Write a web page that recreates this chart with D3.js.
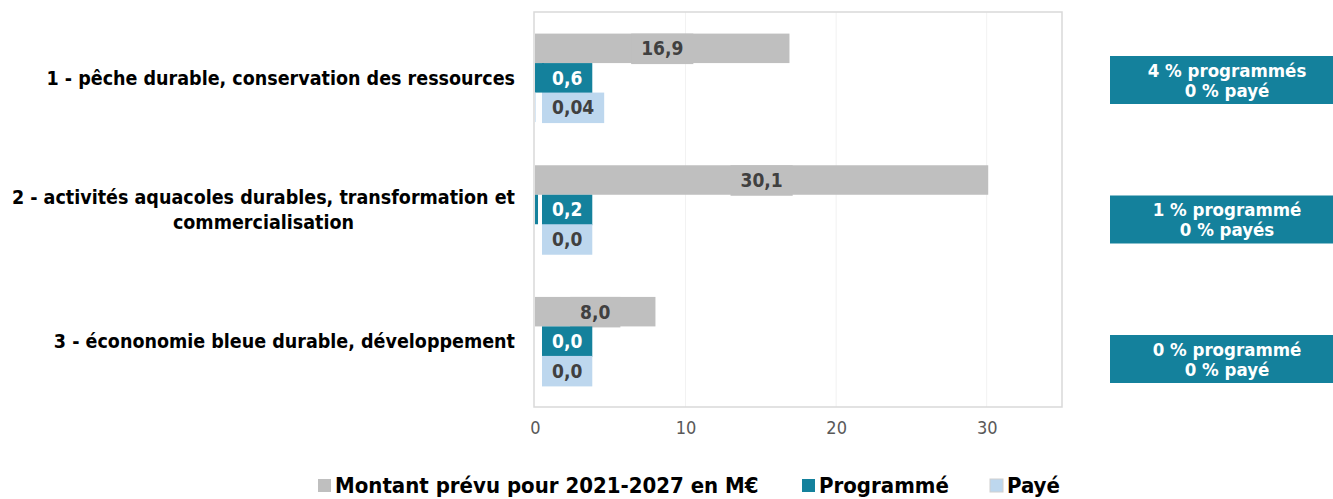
<!DOCTYPE html>
<html>
<head>
<meta charset="utf-8">
<script src="https://cdn.jsdelivr.net/npm/d3@7"></script>
<style>
  body { margin: 0; background: #fff; }
  svg { display: block; font-family: "DejaVu Sans Condensed", "DejaVu Sans", sans-serif; }
</style>
</head>
<body>
<div id="chart"></div>
<script>
// data
var categories = [
  ["1 - pêche durable, conservation des ressources"],
  ["2 - activités aquacoles durables, transformation et", "commercialisation"],
  ["3 - écononomie bleue durable, développement"]
];
var prevu = [16.9, 30.1, 8.0];
var programme = [0.6, 0.2, 0.0];
var paye = [0.04, 0.0, 0.0];
var ratioText = [
  ["4 % programmés", "0 % payé"],
  ["1 % programmé", "0 % payés"],
  ["0 % programmé", "0 % payé"]
];
var xTicks = [0, 10, 20, 30];
var seriesNames = ["Montant prévu pour 2021-2027 en M€", "Programmé", "Payé"];
var seriesColors = ["#bfbfbf", "#14819c", "#bdd7ee"];
var labelColors = ["#404040", "#ffffff", "#404040"];

var width = 1333, height = 499;
var plot = {left: 535, right: 1062, top: 12, bottom: 407};

var svg = d3.select("#chart").append("svg")
    .attr("width", width)
    .attr("height", height);

var x = d3.scaleLinear().domain([0, 35]).range([plot.left, plot.right]);
var y = d3.scaleBand().domain(d3.range(categories.length))
    .range([plot.top, plot.bottom])
    .paddingInner(0.328).paddingOuter(0.164);
var ySub = d3.scaleBand().domain([0, 1, 2]).range([0, y.bandwidth()]);

var locale = d3.formatLocale({decimal: ",", thousands: " ", grouping: [3], currency: ["", "€"]});
var f1 = locale.format(".1f"), f2 = locale.format(".2f");
function fmt(v) { return (v > 0 && v < 0.1) ? f2(v) : f1(v); }

// gridlines
svg.append("g").selectAll("line")
  .data(xTicks.slice(1))
  .enter().append("line")
    .attr("x1", function(d){ return x(d); })
    .attr("x2", function(d){ return x(d); })
    .attr("y1", plot.top).attr("y2", plot.bottom)
    .attr("stroke", "#f2f2f2").attr("stroke-width", 1);

// plot border
svg.append("rect")
  .attr("x", plot.left - 1).attr("y", plot.top)
  .attr("width", plot.right - plot.left + 1).attr("height", plot.bottom - plot.top)
  .attr("fill", "none").attr("stroke", "#d9d9d9").attr("stroke-width", 1.5);

// x axis labels
var xAxis = svg.append("g")
  .attr("transform", "translate(0," + (plot.bottom + 8) + ")")
  .call(d3.axisBottom(x).tickValues(xTicks).tickSize(0).tickPadding(6));
xAxis.select(".domain").remove();
xAxis.selectAll("text")
  .attr("fill", "#595959")
  .style("font-size", "18px")
  .style("font-family", "'DejaVu Sans Condensed', 'DejaVu Sans', sans-serif");

var series = [prevu, programme, paye];

series.forEach(function(vals, s) {
  var g = svg.append("g");
  g.selectAll("rect.bar")
    .data(vals)
    .enter().append("rect")
      .attr("class", "bar")
      .attr("x", x(0))
      .attr("y", function(d, i){ return y(i) + ySub(s); })
      .attr("width", function(d){ return x(d) - x(0); })
      .attr("height", ySub.bandwidth())
      .attr("fill", seriesColors[s]);

  var lab = g.selectAll("g.lab")
    .data(vals)
    .enter().append("g")
      .attr("class", "lab");
  var boxes = lab.append("rect")
      .attr("fill", seriesColors[s]);
  var txt = lab.append("text")
      .attr("y", function(d, i){ return y(i) + ySub(s) + ySub.bandwidth() / 2; })
      .attr("dy", "0.36em")
      .attr("text-anchor", "middle")
      .attr("fill", labelColors[s])
      .style("font-size", "19px")
      .style("font-weight", "bold")
      .text(function(d){ return fmt(d); });
  txt.each(function(d, i) {
    var w = this.getComputedTextLength() + 20;
    var cx = s === 0 ? (x(0) + x(d)) / 2 : x(0) + 7 + w / 2;
    d3.select(this).attr("x", cx);
    d3.select(boxes.nodes()[i])
      .attr("x", cx - w / 2)
      .attr("width", w)
      .attr("y", y(i) + ySub(s))
      .attr("height", ySub.bandwidth() + 1);
  });
});

// category labels
var catG = svg.append("g");
categories.forEach(function(lines, i) {
  var cy = y(i) + y.bandwidth() / 2;
  var t = catG.append("text")
    .attr("fill", "#000")
    .style("font-size", "19.5px")
    .style("font-weight", "bold");
  if (lines.length === 1) {
    t.attr("x", 515).attr("y", cy).attr("dy", "0.36em")
      .attr("text-anchor", "end").text(lines[0]);
  } else {
    t.attr("text-anchor", "middle");
    var first = t.append("tspan").attr("y", cy - 13).attr("dy", "0.36em").text(lines[0]);
    var w = first.node().getComputedTextLength();
    var cx = 515 - w / 2;
    first.attr("x", cx);
    t.append("tspan").attr("x", cx).attr("y", cy + 12).attr("dy", "0.36em").text(lines[1]);
  }
});

// ratio boxes on the right
var yBox = d3.scalePoint().domain(d3.range(ratioText.length)).range([56, 335]);
var boxG = svg.append("g").selectAll("g")
  .data(ratioText)
  .enter().append("g");
boxG.append("rect")
  .attr("x", 1110).attr("width", 223)
  .attr("y", function(d, i){ return yBox(i); })
  .attr("height", 48)
  .attr("fill", seriesColors[1]);
boxG.each(function(d, i) {
  var g = d3.select(this);
  d.forEach(function(line, k) {
    g.append("text")
      .attr("x", 1227)
      .attr("y", yBox(i) + 14 + k * 20)
      .attr("dy", "0.36em")
      .attr("text-anchor", "middle")
      .attr("fill", "#fff")
      .style("font-size", "18.5px")
      .style("font-weight", "bold")
      .text(line);
  });
});

// legend
var legend = svg.append("g").attr("transform", "translate(0,485)");
var legX = [318, 802, 990];
seriesNames.forEach(function(name, i) {
  legend.append("rect")
    .attr("x", legX[i]).attr("y", -6)
    .attr("width", 13).attr("height", 13)
    .attr("fill", seriesColors[i])
    .attr("stroke", i === 2 ? "#d0d0d0" : "none");
  legend.append("text")
    .attr("x", legX[i] + 17).attr("y", 0).attr("dy", "0.36em")
    .attr("fill", "#000")
    .style("font-size", "22px")
    .style("font-weight", "bold")
    .text(name);
});
</script>
</body>
</html>
